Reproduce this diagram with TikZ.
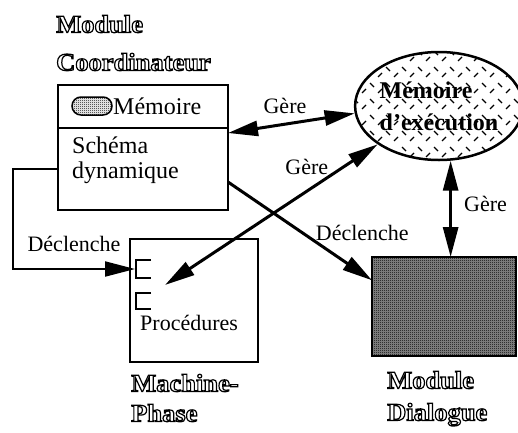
\documentclass[tikz,border=0pt]{standalone}
\usepackage{fontspec}
\setmainfont{Liberation Serif}
\usetikzlibrary{shapes.geometric,arrows.meta,patterns,positioning}

% outlined title letters (stroke only)
\newcommand{\outl}[1]{\special{pdf:literal direct 1 Tr 1.2 w}\textbf{#1}\special{pdf:literal direct 0 Tr}}

\pgfdeclarepatternformonly{checker}{\pgfpointorigin}{\pgfqpoint{2pt}{2pt}}{\pgfqpoint{2pt}{2pt}}{
    \pgfpathrectangle{\pgfpointorigin}{\pgfqpoint{1pt}{1pt}}
    \pgfpathrectangle{\pgfqpoint{1pt}{1pt}}{\pgfqpoint{1pt}{1pt}}
    \pgfusepath{fill}
}
\pgfdeclarepatternformonly{dashhatch}{\pgfqpoint{-1pt}{-1pt}}{\pgfqpoint{17pt}{17pt}}{\pgfqpoint{16pt}{16pt}}{
    \pgfsetlinewidth{1.2pt}
    \pgfpathmoveto{\pgfqpoint{2pt}{13pt}}\pgfpathlineto{\pgfqpoint{6pt}{9pt}}
    \pgfpathmoveto{\pgfqpoint{10pt}{3pt}}\pgfpathlineto{\pgfqpoint{14pt}{7pt}}
    \pgfusepath{stroke}
}

\tikzset{
    title/.style={inner sep=0pt, align=left, anchor=north west,
                  font=\addfontfeature{FakeStretch=1.06}\fontsize{25}{30}\selectfont},
    box/.style={draw, line width=2pt, inner sep=0pt, outer sep=0pt, anchor=north west},
    boxtext/.style={inner sep=0pt, font=\fontsize{24}{25}\selectfont},
    lbl/.style={inner sep=0pt, font=\fontsize{22}{26}\selectfont},
}

\begin{document}
\begin{tikzpicture}[x=1pt, y=-1pt]

    \useasboundingbox (0,0) rectangle (518,432);

    % module coordinateur
    \node[title] (coordtitle) at (56,15) {\outl{Module}\\[8pt]\outl{Coordinateur}};
    \node[box, minimum width=170pt, minimum height=43pt] (memrow) at (58,85) {};
    \node[box, minimum width=170pt, minimum height=82pt] (schema) at (memrow.south west) {};
    \node[draw, line width=1.5pt, rounded corners=9pt, minimum width=40pt, minimum height=18pt,
          inner sep=0pt, pattern=checker] (memcaps) at (92,106) {};
    \node[boxtext, anchor=base west] (memtext) at (113,114) {Mémoire};
    \node[boxtext, align=left, anchor=north west] (schematext) at (72,137) {Schéma\\dynamique};

    % machine-phase
    \node[box, minimum width=128pt, minimum height=123pt] (proc) at (130,239) {};
    \node[lbl, anchor=base west] (proctext) at (140,330) {Procédures};
    \draw[line width=2pt] (151,260) -- (136,260) -- (136,278) -- (151,278);
    \draw[line width=2pt] (151,293) -- (136,293) -- (136,309) -- (151,309);
    \coordinate (procin) at (165,285);
    \coordinate (procleft) at (135,269);
    \node[title] (phasetitle) at (131,374) {\outl{Machine-}\\\outl{Phase}};

    % memoire d'execution
    \node[draw, ellipse, line width=2.5pt, minimum width=154pt, minimum height=108pt, inner sep=0pt,
          pattern=dashhatch, align=left, font=\bfseries\fontsize{24}{32}\selectfont] (memexec) at (439,106)
          {Mémoire\\d'exécution};

    % module dialogue
    \node[box, minimum width=144pt, minimum height=99pt, fill=black!45,
          postaction={pattern=checker}] (dialogue) at (372,257) {};
    \node[title] (dialtitle) at (387,371) {\outl{Module}\\[2pt]\outl{Dialogue}};

    \begin{scope}[>={Triangle[length=30pt, width=15pt]}, line width=3pt]
        \draw [<->] ([yshift=-5pt]schema.north east) -- node[lbl, pos=0.45, above=9pt] {Gère} (memexec.185);
        \draw [<->] (procin) -- node[lbl, pos=0.667, above=15pt] {Gère} (memexec.212);
        \draw [->] ([yshift=-13pt]schema.east) -- node[lbl, pos=0.6, anchor=base west] {Déclenche} (dialogue.160);
        \draw [<->] (memexec.-78) -- node[lbl, pos=0.45, right=12pt] {Gère} (memexec.-78 |- dialogue.north);
        \draw [->, line width=2pt] (schema.west) -- ++(-45,0) |- node[lbl, pos=0.75, above=16pt] {Déclenche} (procleft);
    \end{scope}

\end{tikzpicture}
\end{document}
